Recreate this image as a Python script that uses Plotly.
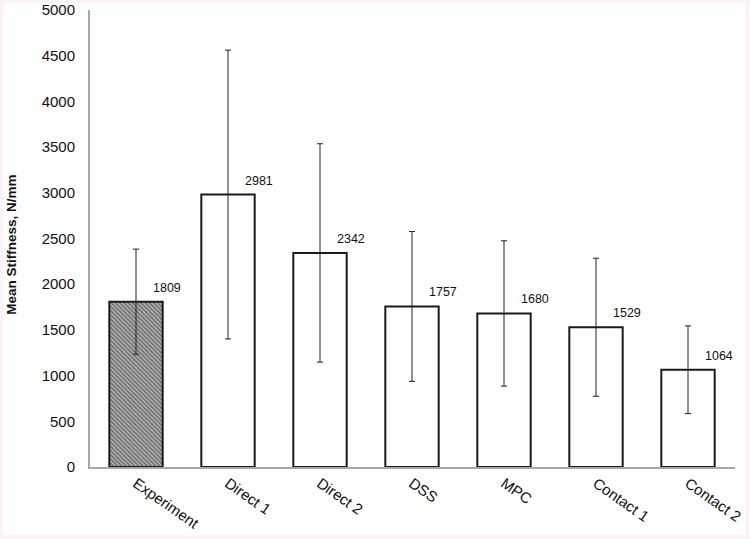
import plotly.graph_objects as go

categories = ["Experiment", "Direct 1", "Direct 2", "DSS", "MPC", "Contact 1", "Contact 2"]
values = [1809, 2981, 2342, 1757, 1680, 1529, 1064]
errors = [575, 1580, 1195, 820, 795, 755, 480]
y_ticks = [0, 500, 1000, 1500, 2000, 2500, 3000, 3500, 4000, 4500, 5000]
y_title = "Mean Stiffness, N/mm"

fig = go.Figure()

# Experiment bar (hatched)
fig.add_trace(go.Bar(
    x=categories[:1], y=values[:1],
    error_y=dict(type="data", array=errors[:1], color="#222", thickness=1, width=3),
    marker=dict(color="#9a9a9a", line=dict(color="#1a1a1a", width=2),
                pattern=dict(shape="\\", fgcolor="#222222", bgcolor="#b8b8b8", size=3, solidity=0.55)),
    showlegend=False,
))
# Simulation bars
fig.add_trace(go.Bar(
    x=categories[1:], y=values[1:],
    error_y=dict(type="data", array=errors[1:], color="#222", thickness=1, width=3),
    marker=dict(color="white", line=dict(color="#1a1a1a", width=2)),
    showlegend=False,
))

for c, v in zip(categories, values):
    fig.add_annotation(x=c, y=v, text=str(v), showarrow=False,
                       xanchor="left", yanchor="bottom", xshift=15, yshift=5,
                       font=dict(family="Liberation Sans, Arial", size=12.5, color="#111"))

# y-axis title
fig.add_annotation(xref="paper", yref="paper", x=-0.121, y=0.486,
                   text="<b>" + y_title + "</b>", textangle=-90, showarrow=False,
                   xanchor="center", yanchor="middle",
                   font=dict(family="Liberation Sans, Arial", size=13.5, color="#111"))

# white card inside a faint pinkish frame
fig.add_shape(type="rect", xref="paper", yref="paper",
              x0=-0.1349, x1=1.0155, y0=-0.1488, y1=1.0153,
              fillcolor="white", line=dict(width=0), layer="below")

fig.update_layout(
    width=750, height=539, autosize=False,
    margin=dict(l=90, r=15, t=10, b=72),
    paper_bgcolor="#fbf3f6",
    plot_bgcolor="rgba(0,0,0,0)",
    bargap=0.42,
    barmode="overlay",
    font=dict(family="Liberation Sans, Arial", color="#111"),
)
fig.update_xaxes(
    categoryorder="array", categoryarray=categories,
    showline=True, linecolor="#a8a8a8", linewidth=2,
    ticks="", tickangle=35, tickfont=dict(size=15),
    showgrid=False, automargin=False,
)
fig.update_yaxes(
    range=[0, 5000], tickvals=y_ticks,
    showline=True, linecolor="#a8a8a8", linewidth=2,
    ticks="", ticklabelstandoff=10, tickfont=dict(size=15),
    showgrid=False, zeroline=False,
    automargin=False,
)

fig.write_html("out.html",
               config={"responsive": False, "displayModeBar": False},
               post_script="document.body.style.margin='0';document.body.style.overflow='hidden';")
